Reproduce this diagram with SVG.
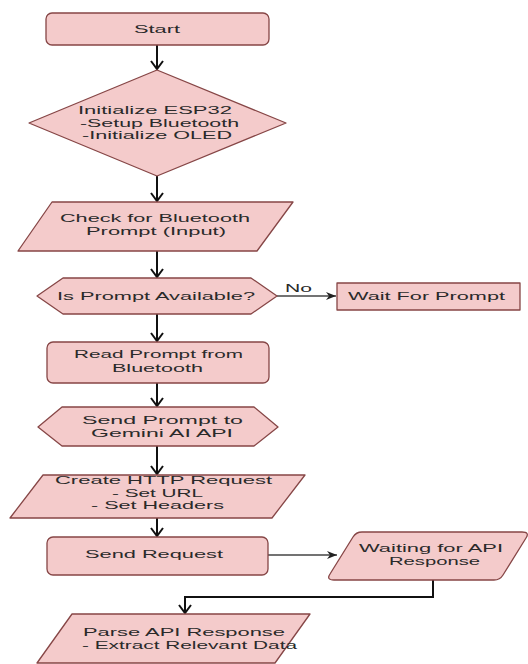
<svg xmlns="http://www.w3.org/2000/svg" width="528" height="664" viewBox="0 0 528 664">
<defs>
<style>
.n{fill:#f4cbcb;stroke:#864646;stroke-width:1.3;stroke-linejoin:round}
.t{font-family:"Liberation Sans",Arial,sans-serif;font-size:11.5px;fill:#2a2a2a}
.c{fill:none;stroke:#111;stroke-width:2}
.h{fill:none;stroke:#444;stroke-width:1.5}
</style>
<marker id="av" markerUnits="userSpaceOnUse" viewBox="-2 -8 12 16" markerWidth="12" markerHeight="16" refX="8" refY="0" orient="auto">
<path d="M0,-6 L8,0 L0,6" fill="none" stroke="#111" stroke-width="2"/>
</marker>
<marker id="ah" markerUnits="userSpaceOnUse" viewBox="0 -5 11 10" markerWidth="11" markerHeight="10" refX="10" refY="0" orient="auto">
<path d="M0,-4 L10,0 L0,4 L3,0 Z" fill="#222"/>
</marker>
</defs>
<rect width="528" height="664" fill="#fff"/>
<g id="connectors">
<path class="c" d="M157,45 V69" marker-end="url(#av)"/>
<path class="c" d="M157,176 V201" marker-end="url(#av)"/>
<path class="c" d="M157,251 V277" marker-end="url(#av)"/>
<path class="c" d="M157,314 V341" marker-end="url(#av)"/>
<path class="c" d="M157,383 V406" marker-end="url(#av)"/>
<path class="c" d="M157,446 V474" marker-end="url(#av)"/>
<path class="c" d="M157,518 V536" marker-end="url(#av)"/>
<path class="h" d="M277,296 H336" marker-end="url(#ah)"/>
<path class="h" d="M268,555 H337" marker-end="url(#ah)"/>
<path class="c" d="M433,580 V597 H185 V613" marker-end="url(#av)"/>
<text class="t" x="285" y="292" textLength="27" lengthAdjust="spacingAndGlyphs">No</text>
</g>
<g id="start">
<rect class="n" x="46" y="13" width="223" height="32" rx="6"/>
<text class="t" x="134" y="32.5" textLength="46" lengthAdjust="spacingAndGlyphs">Start</text>
</g>
<g id="init">
<path class="n" d="M157,70 L286,123 L157,176 L29,123 Z"/>
<text class="t" x="78" y="114" textLength="154" lengthAdjust="spacingAndGlyphs">Initialize ESP32</text>
<text class="t" x="80" y="126.5" textLength="159" lengthAdjust="spacingAndGlyphs">-Setup Bluetooth</text>
<text class="t" x="82" y="139" textLength="150" lengthAdjust="spacingAndGlyphs">-Initialize OLED</text>
</g>
<g id="check">
<path class="n" d="M52,202 L293,202 L257,251 L18,251 Z"/>
<text class="t" x="60" y="222" textLength="190" lengthAdjust="spacingAndGlyphs">Check for Bluetooth</text>
<text class="t" x="86" y="234.5" textLength="140" lengthAdjust="spacingAndGlyphs">Prompt (Input)</text>
</g>
<g id="available">
<path class="n" d="M37,296 L63,278 L251,278 L277,296 L251,314 L63,314 Z"/>
<text class="t" x="57" y="300" textLength="198" lengthAdjust="spacingAndGlyphs">Is Prompt Available?</text>
</g>
<g id="wait">
<rect class="n" x="337" y="283" width="183" height="27"/>
<text class="t" x="348" y="300" textLength="157" lengthAdjust="spacingAndGlyphs">Wait For Prompt</text>
</g>
<g id="read">
<rect class="n" x="47" y="342" width="222" height="41" rx="6"/>
<text class="t" x="74" y="358" textLength="169" lengthAdjust="spacingAndGlyphs">Read Prompt from</text>
<text class="t" x="112" y="372" textLength="91" lengthAdjust="spacingAndGlyphs">Bluetooth</text>
</g>
<g id="send-prompt">
<path class="n" d="M38,427 L62,407 L254,407 L278,427 L254,446 L62,446 Z"/>
<text class="t" x="82" y="424" textLength="161" lengthAdjust="spacingAndGlyphs">Send Prompt to</text>
<text class="t" x="91" y="437" textLength="142" lengthAdjust="spacingAndGlyphs">Gemini AI API</text>
</g>
<g id="create">
<path class="n" d="M43,475 L305,475 L272,518 L10,518 Z"/>
<text class="t" x="55" y="484" textLength="217" lengthAdjust="spacingAndGlyphs">Create HTTP Request</text>
<text class="t" x="112" y="496.5" textLength="91" lengthAdjust="spacingAndGlyphs">- Set URL</text>
<text class="t" x="91" y="509" textLength="133" lengthAdjust="spacingAndGlyphs">- Set Headers</text>
</g>
<g id="send-request">
<rect class="n" x="47" y="537" width="221" height="38" rx="6"/>
<text class="t" x="85" y="558" textLength="138" lengthAdjust="spacingAndGlyphs">Send Request</text>
</g>
<g id="waiting">
<path class="n" d="M362,532 L522,532 Q530,532 526,538 L503,575 Q500,580 494,580 L334,580 Q326,580 330,574 L353,537 Q356,532 362,532 Z"/>
<text class="t" x="359" y="552" textLength="144" lengthAdjust="spacingAndGlyphs">Waiting for API</text>
<text class="t" x="389" y="564.5" textLength="91" lengthAdjust="spacingAndGlyphs">Response</text>
</g>
<g id="parse">
<path class="n" d="M72,614 L310,614 L275,663 L37,663 Z"/>
<text class="t" x="83" y="636" textLength="202" lengthAdjust="spacingAndGlyphs">Parse API Response</text>
<text class="t" x="82" y="649" textLength="215" lengthAdjust="spacingAndGlyphs">- Extract Relevant Data</text>
</g>
</svg>
